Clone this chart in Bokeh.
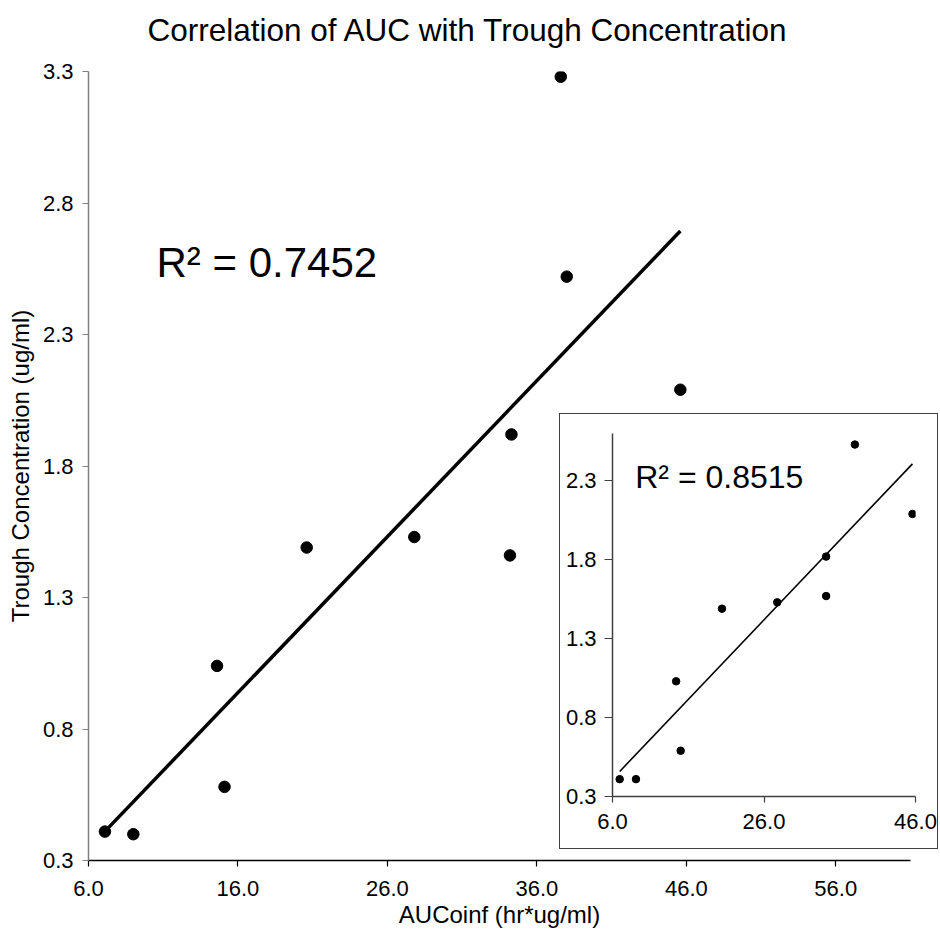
import numpy as np
from bokeh.plotting import figure
from bokeh.models import (GridBox, Label, FixedTicker, NumeralTickFormatter,
                          Range1d, Title)
from bokeh.embed import file_html
from bokeh.resources import INLINE

# ---------------- data ----------------
auc_all = [7.1, 9.0, 14.6, 15.1, 20.6, 27.8, 34.2, 34.3, 37.6, 38.0, 45.6]
trough_all = [0.41, 0.40, 1.04, 0.58, 1.49, 1.53, 1.46, 1.92, 3.28, 2.52, 2.09]

auc_sub = [6.95, 9.1, 14.4, 15.0, 20.45, 27.75, 34.2, 34.2, 38.0, 45.6]
trough_sub = [0.41, 0.41, 1.03, 0.59, 1.49, 1.53, 1.82, 1.57, 2.53, 2.09]

main_xticks = [6, 16, 26, 36, 46, 56]
main_yticks = [0.3, 0.8, 1.3, 1.8, 2.3, 2.8, 3.3]
inset_xticks = [6, 26, 46]
inset_yticks = [0.3, 0.8, 1.3, 1.8, 2.3]

title_text = "Correlation of AUC with Trough Concentration"
xlabel = "AUCoinf (hr*ug/ml)"
ylabel = "Trough Concentration (ug/ml)"
r2_main = "R\u00b2 = 0.7452"
r2_inset = "R\u00b2 = 0.8515"

FONT = "Liberation Sans"


def fit_line(x, y):
    slope, icpt = np.polyfit(x, y, 1)
    xs = np.array([min(x), max(x)])
    return xs, slope * xs + icpt


def style_axis(ax, ticks, line_color, label_size, standoff, tick_out):
    ax.ticker = FixedTicker(ticks=ticks)
    ax.formatter = NumeralTickFormatter(format="0.0")
    ax.minor_tick_line_color = None
    ax.major_tick_in = 0
    ax.major_tick_out = tick_out
    ax.axis_line_color = line_color
    ax.axis_line_width = 1.5
    ax.major_tick_line_color = line_color
    ax.major_tick_line_width = 1.2
    ax.major_label_text_font = FONT
    ax.major_label_text_font_size = label_size
    ax.major_label_text_color = "black"
    ax.major_label_standoff = standoff


# ---------------- main chart ----------------
p = figure(frame_width=822, frame_height=789,
           x_range=Range1d(6, 61), y_range=Range1d(0.3, 3.3),
           min_border_left=88, min_border_right=30,
           min_border_top=71, min_border_bottom=76,
           output_backend="svg", toolbar_location=None, tools="",
           title=None)
# spacer between frame and title, then the title itself
p.add_layout(Title(text=" ", text_font_size="2px", standoff=18), "above")
p.add_layout(Title(text=title_text, text_font=FONT, text_font_size="31.5px",
                   text_font_style="normal", text_color="black",
                   align="left", offset=59, vertical_align="top", standoff=0),
             "above")
p.xgrid.visible = False
p.ygrid.visible = False
p.outline_line_color = None
p.background_fill_color = "white"
p.border_fill_color = "white"
p.frame_align = False

style_axis(p.xaxis[0], main_xticks, "black", "22px", 14, 6)
style_axis(p.yaxis[0], main_yticks, "#808080", "22px", 9, 6)
for ax, lab, so in ((p.xaxis[0], xlabel, 2), (p.yaxis[0], ylabel, 6)):
    ax.axis_label = lab
    ax.axis_label_text_font = FONT
    ax.axis_label_text_font_size = "24px"
    ax.axis_label_text_font_style = "normal"
    ax.axis_label_text_color = "black"
    ax.axis_label_standoff = so

lx, ly = fit_line(auc_all, trough_all)
p.line(lx, ly, line_width=3.5, line_color="black")
p.scatter(auc_all, trough_all, size=11.5, fill_color="black", line_color="black")
p.add_layout(Label(x=10.55, y=2.575, text=r2_main, text_font=FONT,
                   text_font_size="42px", text_color="black",
                   text_baseline="alphabetic", text_align="left"))

# ---------------- inset chart ----------------
q = figure(width=379, height=436, sizing_mode="fixed",
           x_range=Range1d(6, 46), y_range=Range1d(0.3, 2.6),
           min_border_left=53, min_border_right=23,
           min_border_top=20, min_border_bottom=53,
           output_backend="svg", toolbar_location=None, tools="",
           align="start",
           styles={"position": "relative", "left": "559px", "top": "413px",
                   "width": "379px", "height": "436px",
                   "justify-self": "start", "align-self": "start",
                   "outline": "1.6px solid #404040", "outline-offset": "-1.6px",
                   "z-index": "2"})
q.frame_align = False
q.xgrid.visible = False
q.ygrid.visible = False
q.outline_line_color = None
# transparent canvas so the CSS box edge around the inset stays visible
q.background_fill_color = None
q.border_fill_color = None
style_axis(q.xaxis[0], inset_xticks, "#404040", "22px", 11, 6)
style_axis(q.yaxis[0], inset_yticks, "#404040", "22px", 8, 8)

ix, iy = fit_line(auc_sub, trough_sub)
q.line(ix, iy, line_width=1.6, line_color="black")
q.scatter(auc_sub, trough_sub, size=7.5, fill_color="black", line_color="black")
q.add_layout(Label(x=9.0, y=2.326, text=r2_inset, text_font=FONT,
                   text_font_size="32px", text_color="black",
                   text_baseline="alphabetic", text_align="left"))

layout = GridBox(children=[(p, 0, 0), (q, 0, 0)])

open("out.html", "w").write(file_html(layout, INLINE))
